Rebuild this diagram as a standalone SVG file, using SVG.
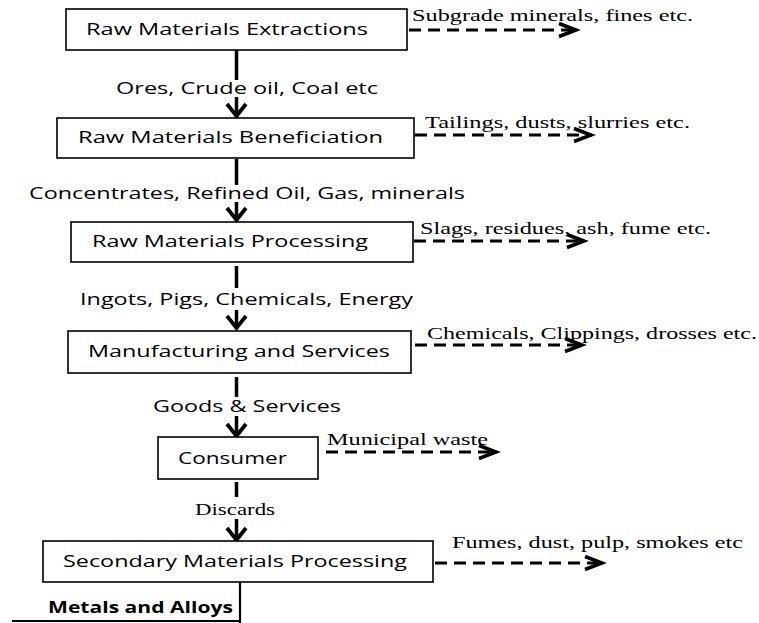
<svg xmlns="http://www.w3.org/2000/svg" width="759" height="623" viewBox="0 0 759 623">
  <style>
    .box { fill: #fff; stroke: #000; stroke-width: 1.6; }
    .lbl { font-family: "Open Sans", "Liberation Sans", sans-serif; font-size: 16.8px; fill: #000; }
    .bold { font-weight: bold; }
    .note { font-family: "Liberation Serif", "Times New Roman", serif; font-size: 16.5px; fill: #000; }
    .flow { stroke: #000; stroke-width: 3.5; fill: none; }
    .waste { stroke: #000; stroke-width: 3; fill: none; stroke-dasharray: 12 7; }
    .base { stroke: #000; stroke-width: 2.2; fill: none; }
  </style>
  <defs>
    <marker id="head-down" markerUnits="userSpaceOnUse" orient="0" refX="0" refY="0" markerWidth="30" markerHeight="30" overflow="visible">
      <path d="M-9.5,-13 L0,-1 L9.5,-13" stroke="#000" stroke-width="3.8" fill="none"/>
    </marker>
    <marker id="head-right" markerUnits="userSpaceOnUse" orient="0" refX="0" refY="0" markerWidth="30" markerHeight="30" overflow="visible">
      <path d="M-18,-6.5 L-1,0 L-18,6.5" stroke="#000" stroke-width="3.5" fill="none"/>
    </marker>
  </defs>

  <!-- connectors -->
  <g id="connectors">
    <!-- main flow, top to bottom -->
    <line class="flow" x1="236.5" y1="50" x2="236.5" y2="80"/>
    <line class="flow" x1="236.5" y1="97" x2="236.5" y2="117" marker-end="url(#head-down)"/>
    <line class="flow" x1="236.5" y1="159" x2="236.5" y2="185"/>
    <line class="flow" x1="236.5" y1="202" x2="236.5" y2="221" marker-end="url(#head-down)"/>
    <line class="flow" x1="236.5" y1="266" x2="236.5" y2="288"/>
    <line class="flow" x1="236.5" y1="310" x2="236.5" y2="329" marker-end="url(#head-down)"/>
    <line class="flow" x1="236.5" y1="377" x2="236.5" y2="397"/>
    <line class="flow" x1="236.5" y1="416" x2="236.5" y2="437" marker-end="url(#head-down)"/>
    <line class="flow" x1="236.5" y1="482" x2="236.5" y2="497"/>
    <line class="flow" x1="236.5" y1="519" x2="236.5" y2="541" marker-end="url(#head-down)"/>
    <!-- residue streams -->
    <line class="waste" x1="409" y1="30" x2="577" y2="30" marker-end="url(#head-right)"/>
    <line class="waste" x1="415" y1="135" x2="592" y2="135" marker-end="url(#head-right)"/>
    <line class="waste" x1="414" y1="241" x2="585" y2="241" marker-end="url(#head-right)"/>
    <line class="waste" x1="415" y1="345" x2="583" y2="345" marker-end="url(#head-right)"/>
    <line class="waste" x1="326" y1="452" x2="497" y2="452" marker-end="url(#head-right)"/>
    <line class="waste" x1="435" y1="563" x2="603" y2="563" marker-end="url(#head-right)"/>
    <!-- output bracket -->
    <line class="base" x1="240" y1="582" x2="240" y2="623"/>
    <line class="base" x1="12" y1="621" x2="241" y2="621"/>
  </g>

  <g id="extraction">
    <rect class="box" x="66" y="9" width="341" height="41"/>
    <text class="lbl" x="86" y="35" textLength="282" lengthAdjust="spacingAndGlyphs">Raw Materials Extractions</text>
    <text class="note" x="412" y="21" textLength="281" lengthAdjust="spacingAndGlyphs">Subgrade minerals, fines etc.</text>
  </g>
  <text class="lbl" x="116" y="94" textLength="262" lengthAdjust="spacingAndGlyphs">Ores, Crude oil, Coal etc</text>

  <g id="beneficiation">
    <rect class="box" x="57" y="118" width="357" height="40"/>
    <text class="lbl" x="78" y="143" textLength="305" lengthAdjust="spacingAndGlyphs">Raw Materials Beneficiation</text>
    <text class="note" x="425" y="128" textLength="265" lengthAdjust="spacingAndGlyphs">Tailings, dusts, slurries etc.</text>
  </g>
  <text class="lbl" x="29" y="199" textLength="436" lengthAdjust="spacingAndGlyphs">Concentrates, Refined Oil, Gas, minerals</text>

  <g id="processing">
    <rect class="box" x="71" y="222" width="342" height="40"/>
    <text class="lbl" x="92" y="247" textLength="276" lengthAdjust="spacingAndGlyphs">Raw Materials Processing</text>
    <text class="note" x="420" y="234" textLength="291" lengthAdjust="spacingAndGlyphs">Slags, residues, ash, fume etc.</text>
  </g>
  <text class="lbl" x="80" y="305" textLength="333" lengthAdjust="spacingAndGlyphs">Ingots, Pigs, Chemicals, Energy</text>

  <g id="manufacturing">
    <rect class="box" x="68" y="331" width="343" height="42"/>
    <text class="lbl" x="88" y="357" textLength="302" lengthAdjust="spacingAndGlyphs">Manufacturing and Services</text>
    <text class="note" x="427" y="339" textLength="330" lengthAdjust="spacingAndGlyphs">Chemicals, Clippings, drosses etc.</text>
  </g>
  <text class="lbl" x="153" y="412" textLength="188" lengthAdjust="spacingAndGlyphs">Goods &amp; Services</text>

  <g id="consumer">
    <rect class="box" x="158" y="437" width="160" height="42"/>
    <text class="lbl" x="178" y="464" textLength="109" lengthAdjust="spacingAndGlyphs">Consumer</text>
    <text class="note" x="327" y="445" textLength="161" lengthAdjust="spacingAndGlyphs">Municipal waste</text>
  </g>
  <text class="note" x="195" y="515" textLength="80" lengthAdjust="spacingAndGlyphs">Discards</text>

  <g id="secondary">
    <rect class="box" x="43" y="541" width="390" height="41"/>
    <text class="lbl" x="63" y="567" textLength="344" lengthAdjust="spacingAndGlyphs">Secondary Materials Processing</text>
    <text class="note" x="452" y="548" textLength="291" lengthAdjust="spacingAndGlyphs">Fumes, dust, pulp, smokes etc</text>
  </g>

  <g id="metals">
    <text class="lbl bold" x="48" y="613" textLength="185" lengthAdjust="spacingAndGlyphs">Metals and Alloys</text>
  </g>
</svg>
